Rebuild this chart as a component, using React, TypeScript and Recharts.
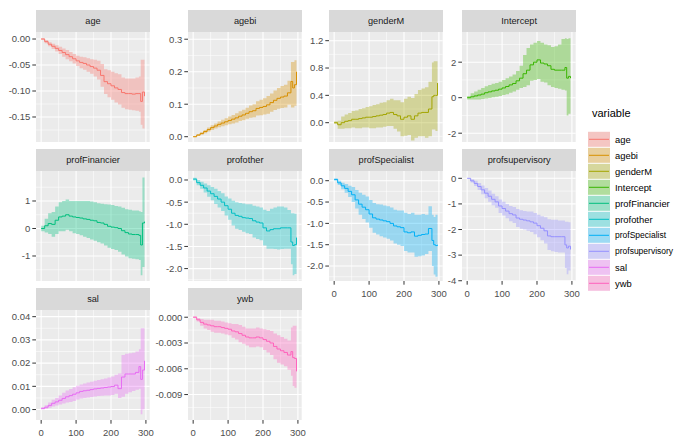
import React from 'react';
import { ComposedChart, Area, Line, XAxis, YAxis, CartesianGrid } from 'recharts';

const times = [0,10,20,30,40,50,60,70,80,90,100,110,120,130,140,150,160,170,180,190,200,210,220,230,240,250,260,270,280,285,290,296];

const variables = ['age','agebi','genderM','Intercept','profFinancier','profother','profSpecialist','profsupervisory','sal','ywb'];
const colors = ['#F8766D','#D89000','#A3A500','#39B600','#00BF7D','#00BFC4','#00B0F6','#9590FF','#E76BF3','#FF62BC'];

const ageEst = [0,-0.005,-0.01,-0.014,-0.018,-0.022,-0.026,-0.03,-0.034,-0.038,-0.042,-0.045,-0.047,-0.05,-0.053,-0.056,-0.06,-0.07,-0.082,-0.086,-0.09,-0.094,-0.097,-0.103,-0.105,-0.105,-0.106,-0.105,-0.105,-0.12,-0.102,-0.11];
const ageHi = [0.002,-0.002,-0.006,-0.009,-0.012,-0.015,-0.018,-0.021,-0.025,-0.029,-0.032,-0.034,-0.035,-0.037,-0.039,-0.04,-0.042,-0.048,-0.058,-0.06,-0.063,-0.066,-0.068,-0.074,-0.076,-0.076,-0.076,-0.074,-0.072,-0.04,-0.04,-0.05];
const ageLo = [-0.002,-0.008,-0.014,-0.019,-0.024,-0.029,-0.034,-0.039,-0.043,-0.047,-0.052,-0.056,-0.059,-0.063,-0.067,-0.072,-0.078,-0.092,-0.106,-0.112,-0.117,-0.122,-0.126,-0.132,-0.135,-0.136,-0.137,-0.138,-0.14,-0.165,-0.172,-0.17];

const agebiEst = [0,0.005,0.01,0.016,0.022,0.028,0.033,0.038,0.042,0.046,0.05,0.054,0.058,0.063,0.067,0.072,0.077,0.08,0.087,0.09,0.093,0.098,0.105,0.112,0.118,0.122,0.125,0.135,0.17,0.15,0.16,0.2];
const agebiHi = [0.002,0.008,0.014,0.021,0.028,0.035,0.041,0.047,0.052,0.057,0.062,0.067,0.072,0.078,0.083,0.089,0.096,0.1,0.109,0.114,0.118,0.125,0.133,0.142,0.15,0.156,0.16,0.172,0.23,0.23,0.235,0.235];
const agebiLo = [-0.002,0.002,0.006,0.011,0.016,0.021,0.025,0.029,0.032,0.035,0.038,0.041,0.044,0.048,0.051,0.055,0.058,0.06,0.065,0.066,0.068,0.071,0.077,0.082,0.086,0.088,0.09,0.098,0.09,0.09,0.095,0.12];

const genderMEst = [0,-0.03,0,0.02,0.03,0.05,0.05,0.06,0.07,0.08,0.08,0.09,0.1,0.11,0.12,0.14,0.15,0.12,0.1,0.05,0.08,0.1,0.05,0.1,0.14,0.15,0.15,0.2,0.38,0.4,0.4,0.58];
const genderMHi = [0.02,0.03,0.09,0.12,0.14,0.17,0.18,0.2,0.21,0.23,0.24,0.26,0.27,0.29,0.3,0.33,0.35,0.33,0.33,0.3,0.35,0.38,0.36,0.42,0.48,0.5,0.52,0.6,0.88,0.9,0.9,0.75];
const genderMLo = [-0.02,-0.09,-0.09,-0.08,-0.08,-0.07,-0.08,-0.08,-0.07,-0.07,-0.08,-0.08,-0.07,-0.07,-0.06,-0.05,-0.05,-0.09,-0.13,-0.2,-0.19,-0.18,-0.26,-0.22,-0.2,-0.2,-0.22,-0.2,-0.1,-0.1,-0.12,0.4];

const interceptEst = [0,0.05,0.1,0.15,0.2,0.28,0.33,0.38,0.42,0.48,0.55,0.63,0.72,0.8,0.95,1.1,1.35,1.55,1.85,2.0,2.13,1.95,1.9,1.8,1.6,1.55,1.55,1.55,1.7,1.1,1.2,1.1];
const interceptHi = [0.1,0.25,0.35,0.45,0.55,0.65,0.72,0.78,0.83,0.9,1.0,1.1,1.2,1.3,1.5,1.8,2.4,2.8,3.0,3.1,3.2,3.1,3.0,2.95,2.85,2.9,3.0,3.3,3.35,3.3,3.35,3.3];
const interceptLo = [-0.1,-0.1,-0.1,-0.1,-0.08,-0.05,-0.02,0.02,0.05,0.1,0.15,0.2,0.28,0.35,0.45,0.55,0.6,0.7,0.95,1.0,1.05,0.9,0.85,0.7,0.6,0.55,0.5,0.45,0.4,-1.0,-0.9,0.3];

const profFinancierEst = [0,0.1,0.18,0.15,0.3,0.42,0.45,0.5,0.45,0.42,0.4,0.38,0.35,0.33,0.3,0.28,0.22,0.2,0.15,0.08,0.05,0.03,0,-0.08,-0.15,-0.2,-0.22,-0.22,-0.25,-0.6,0.2,0.25];
const profFinancierHi = [0.1,0.35,0.55,0.6,0.8,0.95,1.0,1.05,1.0,1.0,1.0,1.0,1.0,1.0,0.98,0.95,0.92,0.9,0.88,0.87,0.85,0.82,0.8,0.75,0.7,0.68,0.65,0.65,0.63,0.6,1.85,1.8];
const profFinancierLo = [-0.1,-0.15,-0.2,-0.3,-0.2,-0.1,-0.1,-0.05,-0.1,-0.17,-0.2,-0.25,-0.3,-0.35,-0.4,-0.45,-0.5,-0.55,-0.62,-0.7,-0.75,-0.78,-0.85,-0.95,-1.02,-1.08,-1.1,-1.12,-1.15,-1.7,-1.4,-1.3];

const profotherEst = [0.02,-0.06,-0.12,-0.18,-0.25,-0.31,-0.37,-0.43,-0.5,-0.58,-0.66,-0.75,-0.8,-0.82,-0.85,-0.86,-0.87,-0.92,-0.95,-0.97,-1.08,-1.15,-1.12,-1.1,-1.1,-1.08,-1.08,-1.08,-1.4,-1.48,-1.46,-1.3];
const profotherHi = [0.05,0,-0.04,-0.08,-0.12,-0.16,-0.2,-0.25,-0.3,-0.37,-0.42,-0.47,-0.5,-0.52,-0.53,-0.55,-0.55,-0.58,-0.6,-0.62,-0.67,-0.7,-0.65,-0.62,-0.6,-0.6,-0.62,-0.68,-0.75,-0.75,-0.76,-0.76];
const profotherLo = [-0.01,-0.12,-0.2,-0.28,-0.38,-0.46,-0.54,-0.62,-0.7,-0.8,-0.9,-1.03,-1.1,-1.13,-1.17,-1.2,-1.22,-1.3,-1.33,-1.36,-1.48,-1.55,-1.55,-1.56,-1.57,-1.56,-1.55,-1.55,-1.9,-2.15,-2.12,-1.8];

const profSpecialistEst = [0.03,-0.05,-0.12,-0.18,-0.25,-0.33,-0.45,-0.55,-0.62,-0.68,-0.78,-0.87,-0.9,-0.92,-0.94,-0.96,-1.0,-1.06,-1.08,-1.1,-1.2,-1.22,-1.2,-1.3,-1.28,-1.26,-1.25,-1.12,-1.4,-1.5,-1.52,-1.5];
const profSpecialistHi = [0.05,0,-0.05,-0.08,-0.12,-0.15,-0.22,-0.28,-0.33,-0.37,-0.45,-0.52,-0.55,-0.56,-0.58,-0.6,-0.63,-0.68,-0.7,-0.7,-0.75,-0.78,-0.75,-0.8,-0.8,-0.78,-0.8,-0.6,-0.8,-0.85,-0.8,-1.35];
const profSpecialistLo = [0,-0.1,-0.2,-0.28,-0.38,-0.5,-0.65,-0.8,-0.9,-0.98,-1.1,-1.22,-1.26,-1.3,-1.33,-1.36,-1.4,-1.47,-1.5,-1.53,-1.65,-1.68,-1.68,-1.78,-1.77,-1.75,-1.72,-1.65,-2.0,-2.2,-2.25,-1.65];

const profsupervisoryEst = [0,-0.1,-0.2,-0.32,-0.45,-0.58,-0.7,-0.82,-0.92,-1.08,-1.18,-1.28,-1.38,-1.43,-1.55,-1.6,-1.63,-1.66,-1.7,-1.75,-1.85,-1.95,-2.05,-2.25,-2.28,-2.28,-2.28,-2.28,-2.6,-2.72,-2.65,-2.78];
const profsupervisoryHi = [0,-0.04,-0.1,-0.18,-0.28,-0.38,-0.48,-0.6,-0.7,-0.83,-0.92,-1.0,-1.08,-1.12,-1.2,-1.25,-1.28,-1.3,-1.3,-1.35,-1.42,-1.48,-1.52,-1.6,-1.62,-1.62,-1.65,-1.65,-1.7,-1.7,-1.72,-1.8];
const profsupervisoryLo = [0,-0.16,-0.3,-0.46,-0.62,-0.78,-0.92,-1.05,-1.15,-1.35,-1.45,-1.56,-1.68,-1.75,-1.9,-1.97,-2.0,-2.05,-2.1,-2.18,-2.3,-2.42,-2.55,-2.8,-2.85,-2.88,-2.9,-2.9,-3.5,-3.75,-3.6,-3.7];

const salEst = [0.0005,0.001,0.0018,0.0027,0.0033,0.004,0.0048,0.0055,0.006,0.0066,0.0072,0.0078,0.0081,0.0083,0.0086,0.0089,0.0091,0.0093,0.0095,0.0097,0.0099,0.0105,0.009,0.014,0.0153,0.0153,0.0153,0.016,0.0185,0.013,0.017,0.021];
const salHi = [0.001,0.0018,0.003,0.0042,0.005,0.006,0.0072,0.0082,0.0089,0.0096,0.0102,0.0108,0.0112,0.0116,0.012,0.0124,0.0127,0.013,0.0134,0.0138,0.0142,0.015,0.0155,0.0235,0.024,0.0242,0.0245,0.025,0.026,0.035,0.035,0.026];
const salLo = [0,0.0003,0.0008,0.0013,0.0017,0.0022,0.0026,0.003,0.0033,0.0037,0.0043,0.0048,0.005,0.0052,0.0054,0.0056,0.0058,0.0059,0.006,0.0061,0.0063,0.0068,0.005,0.0055,0.0068,0.0075,0.008,0.0085,0.009,-0.002,0,0.015];

const ywbEst = [0,-0.0003,-0.0006,-0.0008,-0.0009,-0.001,-0.0011,-0.0011,-0.0012,-0.0013,-0.0014,-0.0016,-0.0017,-0.0019,-0.0021,-0.0023,-0.0024,-0.0024,-0.0023,-0.0024,-0.0026,-0.0028,-0.003,-0.0034,-0.0037,-0.0039,-0.0041,-0.0044,-0.004,-0.0047,-0.0048,-0.0063];
const ywbHi = [0.0001,-0.0001,-0.0002,-0.0003,-0.0003,-0.0003,-0.0004,-0.0004,-0.0005,-0.0006,-0.0007,-0.0008,-0.0008,-0.0009,-0.0011,-0.0013,-0.0013,-0.0013,-0.0012,-0.0013,-0.0014,-0.0015,-0.0016,-0.0019,-0.0021,-0.0023,-0.0025,-0.0027,-0.0012,-0.001,-0.001,-0.003];
const ywbLo = [-0.0001,-0.0005,-0.001,-0.0013,-0.0015,-0.0017,-0.0018,-0.0018,-0.0019,-0.002,-0.0021,-0.0024,-0.0026,-0.0029,-0.0031,-0.0033,-0.0035,-0.0035,-0.0034,-0.0035,-0.0038,-0.0041,-0.0044,-0.0049,-0.0053,-0.0055,-0.0057,-0.0061,-0.0068,-0.008,-0.0082,-0.0085];

const xTicks = [0, 100, 200, 300];
const xMinor = [50, 150, 250];

type PanelDef = {
  name: string; est: number[]; lo: number[]; hi: number[]; color: string;
  row: number; col: number; domain: [number, number]; ticks: number[]; minor: number[]; digits: number; showX: boolean;
};

const panels: PanelDef[] = [
  { name: 'age', est: ageEst, lo: ageLo, hi: ageHi, color: colors[0], row: 0, col: 0, domain: [-0.1981, 0.0135], ticks: [0, -0.05, -0.1, -0.15], minor: [-0.025, -0.075, -0.125, -0.175], digits: 2, showX: false },
  { name: 'agebi', est: agebiEst, lo: agebiLo, hi: agebiHi, color: colors[1], row: 0, col: 1, domain: [-0.0163, 0.3222], ticks: [0, 0.1, 0.2, 0.3], minor: [0.05, 0.15, 0.25], digits: 1, showX: false },
  { name: 'genderM', est: genderMEst, lo: genderMLo, hi: genderMHi, color: colors[2], row: 0, col: 2, domain: [-0.2826, 1.327], ticks: [0, 0.4, 0.8, 1.2], minor: [-0.2, 0.2, 0.6, 1.0], digits: 1, showX: false },
  { name: 'Intercept', est: interceptEst, lo: interceptLo, hi: interceptHi, color: colors[3], row: 0, col: 3, domain: [-2.496, 3.7], ticks: [-2, 0, 2], minor: [-1, 1, 3], digits: 0, showX: false },
  { name: 'profFinancier', est: profFinancierEst, lo: profFinancierLo, hi: profFinancierHi, color: colors[4], row: 1, col: 0, domain: [-1.909, 2.09], ticks: [-1, 0, 1], minor: [-1.5, -0.5, 0.5, 1.5], digits: 0, showX: false },
  { name: 'profother', est: profotherEst, lo: profotherLo, hi: profotherHi, color: colors[5], row: 1, col: 1, domain: [-2.28, 0.203], ticks: [0, -0.5, -1, -1.5, -2], minor: [-0.25, -0.75, -1.25, -1.75, -2.25], digits: 1, showX: false },
  { name: 'profSpecialist', est: profSpecialistEst, lo: profSpecialistLo, hi: profSpecialistHi, color: colors[6], row: 1, col: 2, domain: [-2.35, 0.227], ticks: [0, -0.5, -1, -1.5, -2], minor: [-0.25, -0.75, -1.25, -1.75, -2.25], digits: 1, showX: true },
  { name: 'profsupervisory', est: profsupervisoryEst, lo: profsupervisoryLo, hi: profsupervisoryHi, color: colors[7], row: 1, col: 3, domain: [-4.01, 0.285], ticks: [0, -1, -2, -3, -4], minor: [-0.5, -1.5, -2.5, -3.5], digits: 0, showX: true },
  { name: 'sal', est: salEst, lo: salLo, hi: salHi, color: colors[8], row: 2, col: 0, domain: [-0.0045, 0.04287], ticks: [0, 0.01, 0.02, 0.03, 0.04], minor: [0.005, 0.015, 0.025, 0.035], digits: 2, showX: true },
  { name: 'ywb', est: ywbEst, lo: ywbLo, hi: ywbHi, color: colors[9], row: 2, col: 1, domain: [-0.01196, 0.00084], ticks: [0, -0.003, -0.006, -0.009], minor: [-0.0015, -0.0045, -0.0075, -0.0105], digits: 3, showX: true },
];

const colLeft = [36.2, 188.3, 329.3, 462.3];
const PW = 113.7;
const stripTop = [10, 149, 288];
const SH = 22;
const plotTop = [32, 171, 310];
const PH = 110;
const AXW = 40;
const RM = 14;
const FONT = '"Liberation Sans", Arial, Helvetica, sans-serif';

function Panel({ p }: { p: PanelDef }) {
  const data = times.map((t, i) => ({ t, est: p.est[i], band: [p.lo[i], p.hi[i]] }));
  const h = PH + (p.showX ? 26 : 0);
  return (
    <>
      <div
        style={{
          position: 'absolute', left: colLeft[p.col], top: stripTop[p.row], width: PW, height: SH,
          background: '#D9D9D9', color: '#1A1A1A', fontSize: 9.2, lineHeight: SH + 'px', textAlign: 'center',
        }}
      >
        {p.name}
      </div>
      <div style={{ position: 'absolute', left: colLeft[p.col] - AXW, top: plotTop[p.row] }}>
        <ComposedChart width={AXW + PW + RM} height={h} data={data} margin={{ top: 0, right: RM, bottom: 0, left: 0 }}>
          <CartesianGrid
            fill="#EBEBEB" stroke="#FFFFFF" strokeWidth={0.55}
            horizontalValues={p.minor} verticalValues={xMinor}
          />
          <CartesianGrid
            stroke="#FFFFFF" strokeWidth={1.1}
            horizontalValues={p.ticks} verticalValues={xTicks}
          />
          <XAxis
            dataKey="t" type="number" domain={[-14.8, 310.8]} ticks={xTicks} allowDataOverflow
            hide={!p.showX} height={26} axisLine={false}
            tick={{ fill: '#4D4D4D', fontSize: 9.5 }} tickLine={{ stroke: '#333333' }} tickSize={3.7} tickMargin={5.5}
            interval={0}
          />
          <YAxis
            type="number" domain={p.domain} ticks={p.ticks} allowDataOverflow width={AXW} axisLine={false}
            tick={{ fill: '#4D4D4D', fontSize: 9.5 }} tickLine={{ stroke: '#333333' }} tickSize={3.7} tickMargin={2}
            tickFormatter={(v: number) => v.toFixed(p.digits)} interval={0}
          />
          <Area
            dataKey="band" type="stepAfter" fill={p.color} fillOpacity={0.35} stroke="none"
            isAnimationActive={false} dot={false} activeDot={false}
          />
          <Line
            dataKey="est" type="stepAfter" stroke={p.color} strokeWidth={1} dot={false} activeDot={false}
            isAnimationActive={false}
          />
        </ComposedChart>
      </div>
    </>
  );
}

function LegendBox() {
  const keyX = 588;
  const keyW = 22;
  const keyH = 15;
  const firstY = 139.3;
  const step = 16;
  return (
    <svg style={{ position: 'absolute', left: 0, top: 0 }} width={678} height={440}>
      <text x={592} y={113} fontSize={11} fill="#000000" dominantBaseline="central" fontFamily={FONT}>variable</text>
      {variables.map((v, i) => {
        const cy = firstY + i * step;
        const long = v.length > 13;
        return (
          <g key={v}>
            <rect x={keyX} y={cy - keyH / 2} width={keyW} height={keyH} fill="#F2F2F2" />
            <rect x={keyX} y={cy - keyH / 2} width={keyW} height={keyH} fill={colors[i]} fillOpacity={0.35} />
            <line x1={keyX + 1} x2={keyX + keyW - 1} y1={cy} y2={cy} stroke={colors[i]} strokeWidth={1} />
            <text
              x={615} y={cy} fontSize={long ? 8.5 : 9.4} fill="#000000" dominantBaseline="central" fontFamily={FONT}
            >
              {v}
            </text>
          </g>
        );
      })}
    </svg>
  );
}

export default function App() {
  return (
    <div
      style={{
        position: 'absolute', left: 0, top: 0, width: 678, height: 440, background: '#FFFFFF',
        fontFamily: FONT, overflow: 'hidden',
      }}
    >
      <LegendBox />
      {panels.map((p) => (
        <Panel key={p.name} p={p} />
      ))}
    </div>
  );
}
